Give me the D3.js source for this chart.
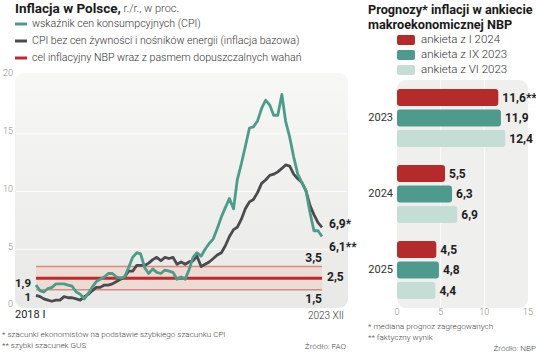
<!DOCTYPE html>
<html><head><meta charset="utf-8">
<script src="https://cdn.jsdelivr.net/npm/d3@7/dist/d3.min.js"></script>
<style>
html,body{margin:0;padding:0;background:#fff;}
svg{display:block;font-family:Roboto,"Noto Sans",sans-serif;}
</style></head><body>
<svg id="c" width="536" height="360"></svg>
<script>
// ---------- DATA ----------
const startMonth = "2018-01";
const cpi = [1.9,1.4,1.3,1.6,1.7,2.0,2.0,2.0,1.9,1.8,1.3,1.1,
  0.7,1.2,1.7,2.2,2.4,2.6,2.9,2.9,2.6,2.5,2.6,3.4,
  4.3,4.7,4.6,3.4,2.9,3.3,3.0,2.9,3.2,3.1,3.0,2.4,
  2.6,2.4,3.2,4.3,4.7,4.4,5.0,5.5,5.9,6.8,7.8,8.6,
  9.4,8.5,11.0,12.4,13.9,15.5,15.6,16.1,17.2,17.9,17.5,16.6,
  16.6,18.4,16.1,14.7,13.0,11.5,10.8,10.1,8.2,6.6,6.6,6.1];
const core = [1.0,0.9,0.7,0.6,0.5,0.6,0.6,0.9,0.8,0.8,0.7,0.6,
  0.9,1.1,1.4,1.7,1.7,1.9,1.9,2.0,2.2,2.4,2.6,3.1,
  3.1,3.6,3.6,3.6,3.8,4.1,4.3,4.0,4.3,4.2,4.3,3.7,
  3.9,3.7,3.9,4.0,4.4,3.5,3.7,3.9,4.2,4.5,4.7,5.3,
  6.1,6.7,6.9,7.6,8.5,9.1,9.3,9.9,10.7,11.0,11.4,11.5,
  11.7,12.0,12.3,12.2,11.5,11.1,10.8,10.1,8.8,8.0,7.3,6.9];
const target = 2.5, bandLow = 1.5, bandHigh = 3.5;
const yTicks = [0,5,10,15,20];
const leftLegend = ["wskaźnik cen konsumpcyjnych (CPI)",
  "CPI bez cen żywności i nośników energii (inflacja bazowa)",
  "cel inflacyjny NBP wraz z pasmem dopuszczalnych wahań"];
const xStartLabel = "2018 I", xEndLabel = "2023 XII";

const years = ["2023","2024","2025"];
const surveys = ["ankieta z I 2024","ankieta z IX 2023","ankieta z VI 2023"];
const survJan24 = [11.6,5.5,4.5];
const survSep23 = [11.9,6.3,4.8];
const survJun23 = [12.4,6.9,4.4];
const survLabels = [["11,6**","5,5","4,5"],["11,9","6,3","4,8"],["12,4","6,9","4,4"]];
const barTicks = [0,5,10,15];

// ---------- STYLE ----------
const C_CPI="#4a9d88", C_CORE="#4b4b4d", C_RED="#bf2a2e", C_BAND="#ecdcd4", C_BANDLINE="#d88a80";
const C_BAR=["#b52b2b","#4e9a8c","#c4ddd5"];
const fmt = v => String(v).replace(".",",");

const svg = d3.select("#c");
const defs = svg.append("defs");
const gr = defs.append("linearGradient").attr("id","bg").attr("x1",0).attr("y1",0).attr("x2",0).attr("y2",1);
gr.append("stop").attr("offset","0%").attr("stop-color","#f7f7f6");
gr.append("stop").attr("offset","100%").attr("stop-color","#e8e8e7");

// ---------- LEFT CHART ----------
const parse = d3.timeParse("%Y-%m");
const t0 = parse(startMonth);
const dates = cpi.map((d,i)=>d3.timeMonth.offset(t0,i));
const x = d3.scaleTime().domain([dates[0],dates[dates.length-1]]).range([36,322]);
const y = d3.scaleLinear().domain([0,20]).range([307,76]);

svg.append("rect").attr("x",15).attr("y",73).attr("width",333).attr("height",235).attr("rx",9).attr("fill","url(#bg)");
svg.append("g").selectAll("line").data(yTicks.filter(d=>d>0&&d<20)).join("line")
  .attr("x1",16).attr("x2",347).attr("y1",d=>y(d)).attr("y2",d=>y(d))
  .attr("stroke","#fbfbfb").attr("stroke-width",1);
svg.append("g").selectAll("text").data(yTicks).join("text")
  .attr("x",13).attr("y",d=>y(d)-2).attr("text-anchor","end").attr("dominant-baseline","middle")
  .attr("font-size",9).attr("font-weight",300).attr("fill","#8a8a8a").text(d=>d);

// band
const x0=x(dates[0]), x1=x(dates[dates.length-1]);
svg.append("rect").attr("x",x0).attr("y",y(bandHigh)).attr("width",x1-x0).attr("height",y(bandLow)-y(bandHigh)).attr("fill",C_BAND);
[bandHigh,bandLow].forEach(v=>svg.append("line").attr("x1",x0).attr("x2",x1).attr("y1",y(v)).attr("y2",y(v)).attr("stroke",C_BANDLINE).attr("stroke-width",1.5));
svg.append("line").attr("x1",x0).attr("x2",x1).attr("y1",y(target)).attr("y2",y(target)).attr("stroke",C_RED).attr("stroke-width",3);

const line = d3.line().x((d,i)=>x(dates[i])).y(d=>y(d)).curve(d3.curveLinear);
svg.append("path").attr("d",line(core)).attr("fill","none").attr("stroke",C_CORE).attr("stroke-width",2.8).attr("stroke-linejoin","round");
svg.append("path").attr("d",line(cpi)).attr("fill","none").attr("stroke",C_CPI).attr("stroke-width",2.8).attr("stroke-linejoin","round");

// value labels
const bold = (sel)=>sel.attr("font-weight",700).attr("font-size",12).attr("fill","#1e1e1e").attr("dominant-baseline","middle");
bold(svg.append("text").attr("x",31).attr("y",y(cpi[0])-1.5).attr("text-anchor","end").attr("font-size",11.5).text(fmt(cpi[0]))).attr("font-size",11.5);
bold(svg.append("text").attr("x",31).attr("y",y(core[0])+3).attr("text-anchor","end")).attr("font-size",11.5).text(fmt(core[0]));
bold(svg.append("text").attr("x",329).attr("y",y(core[core.length-1])-2).text(fmt(core[core.length-1])+"*"));
bold(svg.append("text").attr("x",329).attr("y",y(cpi[cpi.length-1])+11).text(fmt(cpi[cpi.length-1])+"**"));
bold(svg.append("text").attr("x",322).attr("y",y(bandHigh)-8).attr("text-anchor","end").text(fmt(bandHigh)));
bold(svg.append("text").attr("x",327).attr("y",y(target)).text(fmt(target)));
bold(svg.append("text").attr("x",322).attr("y",y(bandLow)+10).attr("text-anchor","end").text(fmt(bandLow)));

svg.append("text").attr("x",15).attr("y",315).attr("dominant-baseline","middle").attr("font-size",11).attr("fill","#222").text(xStartLabel);
svg.append("text").attr("x",344).attr("y",316).attr("text-anchor","end").attr("dominant-baseline","middle").attr("font-size",10).attr("font-weight",300).attr("fill","#333").text(xEndLabel);

// title + legend
const title = svg.append("text").attr("x",15).attr("y",9).attr("dominant-baseline","middle").attr("fill","#1a1a1a");
title.append("tspan").attr("font-weight",700).attr("font-size",13.5).text("Inflacja w Polsce,");
title.append("tspan").attr("font-weight",300).attr("font-size",11).attr("fill","#444").text(" r./r., w proc.");
const legCols=[C_CPI,C_CORE,C_RED];
const lg = svg.append("g").selectAll("g").data(leftLegend).join("g").attr("transform",(d,i)=>`translate(0,${[24,41,58][i]})`);
lg.append("line").attr("x1",15).attr("x2",27).attr("stroke",(d,i)=>legCols[i]).attr("stroke-width",3);
lg.append("text").attr("x",32).attr("dominant-baseline","middle").attr("font-size",10.6).attr("font-weight",300).attr("fill","#333").text(d=>d);

// notes
const note=(t,xx,yy,anchor)=>svg.append("text").attr("x",xx).attr("y",yy).attr("text-anchor",anchor||"start").attr("dominant-baseline","middle").attr("font-size",8.1).attr("font-weight",300).attr("fill","#444").text(t);
note("* szacunki ekonomistów na podstawie szybkiego szacunku CPI",2,335);
note("** szybki szacunek GUS",2,346);
note("Źródło: FAO",346,347,"end");

// ---------- RIGHT CHART ----------
const xb = d3.scaleLinear().domain([0,15]).range([397,528]);
const yb = d3.scaleBand().domain(years).range([80,308]).paddingInner(0.237).paddingOuter(0.118);
const ys = d3.scaleBand().domain([0,1,2]).range([0,yb.bandwidth()]).paddingInner(0.17);
const series=[survJan24,survSep23,survJun23];

svg.append("rect").attr("x",397).attr("y",80).attr("width",131).attr("height",228).attr("rx",9).attr("fill","#efefee");
svg.append("g").selectAll("line").data(barTicks.filter(d=>d>0&&d<15)).join("line")
  .attr("x1",d=>xb(d)).attr("x2",d=>xb(d)).attr("y1",80).attr("y2",308).attr("stroke","#fbfbfb").attr("stroke-width",1);

const grp = svg.append("g").selectAll("g").data(years).join("g").attr("transform",d=>`translate(0,${yb(d)})`);
grp.each(function(yr,yi){
  const g=d3.select(this);
  series.forEach((s,si)=>{
    g.append("rect").attr("x",xb(0)).attr("y",ys(si)).attr("width",xb(s[yi])-xb(0)).attr("height",ys.bandwidth()).attr("rx",3).attr("fill",C_BAR[si]);
    g.append("text").attr("x",xb(s[yi])+4).attr("y",ys(si)+ys.bandwidth()/2+1).attr("dominant-baseline","middle")
      .attr("font-size",12).attr("font-weight",700).attr("fill","#1e1e1e").text(survLabels[si][yi]);
  });
  g.append("text").attr("x",393).attr("y",yb.bandwidth()/2).attr("text-anchor","end").attr("dominant-baseline","middle")
    .attr("font-size",11).attr("fill","#333").text(yr);
});
svg.append("g").selectAll("text").data(barTicks).join("text")
  .attr("x",d=>xb(d)).attr("y",313).attr("text-anchor","middle").attr("dominant-baseline","middle")
  .attr("font-size",9).attr("font-weight",300).attr("fill","#8a8a8a").text(d=>d);

svg.append("text").attr("x",368).attr("y",11).attr("dominant-baseline","middle").attr("font-size",12.7).attr("font-weight",700).attr("fill","#1a1a1a").text("Prognozy* inflacji w ankiecie");
svg.append("text").attr("x",368).attr("y",26).attr("dominant-baseline","middle").attr("font-size",12.7).attr("font-weight",700).attr("fill","#1a1a1a").text("makroekonomicznej NBP");
const rl = svg.append("g").selectAll("g").data(surveys).join("g").attr("transform",(d,i)=>`translate(0,${[40,55,70][i]})`);
rl.append("rect").attr("x",397).attr("y",-5).attr("width",18).attr("height",10).attr("rx",2).attr("fill",(d,i)=>C_BAR[i]);
rl.append("text").attr("x",421).attr("dominant-baseline","middle").attr("font-size",11.5).attr("font-weight",300).attr("fill","#333").text(d=>d);

note("* mediana prognoz zagregowanych",368,327);
note("** faktyczny wynik",368,338);
note("Źródło: NBP",536,349,"end");
</script>
</body></html>
